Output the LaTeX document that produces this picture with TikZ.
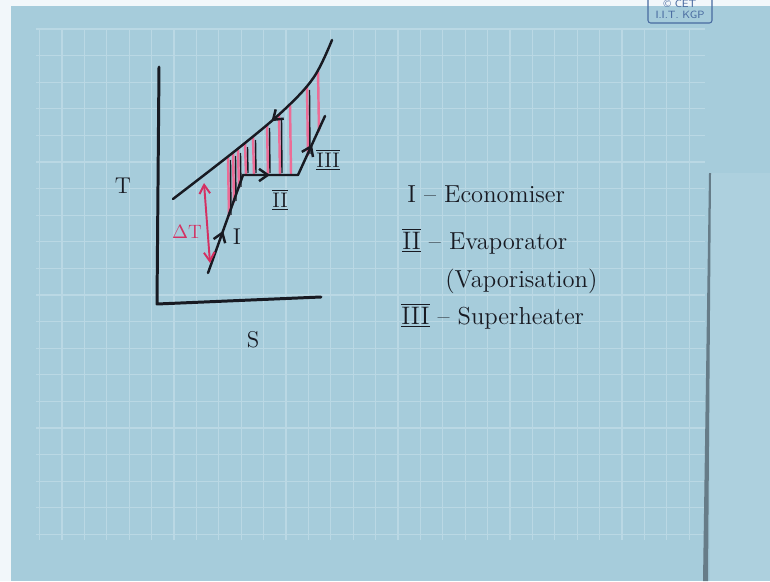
\documentclass[tikz,border=0pt]{standalone}
\usetikzlibrary{arrows.meta,decorations.markings,positioning}
\definecolor{paper}{RGB}{166,204,219}
\definecolor{gridln}{RGB}{186,216,228}
\definecolor{pen}{RGB}{24,26,34}
\definecolor{redpen}{RGB}{212,48,98}
\definecolor{pinkpen}{RGB}{236,108,150}
\definecolor{stamp}{RGB}{72,106,160}
\newcommand{\bars}[1]{$\overline{\underline{\mathrm{#1}}}$}

\begin{document}
\begin{tikzpicture}[x=0.02cm, y=-0.02cm,
    >={Straight Barb[length=5pt, width=7pt]},
    ink/.style={draw=pen, line width=1.4pt, line cap=round, line join=round},
    hatch/.style={draw=pinkpen, line width=1.4pt, line cap=round},
    lbl/.style={text=pen, font=\fontsize{13}{15}\selectfont, inner sep=0pt},
    legend/.style={text=pen, font=\fontsize{14}{17}\selectfont, inner sep=0pt, anchor=base west}]
    % paper and grid
    \clip (0,0) rectangle (770,581);
    \fill[white!85!paper] (0,0) rectangle (770,581);
    \fill[paper] (11,6) rectangle (770,581);
    \foreach \gx in {0,...,29}
        \draw[gridln, line width=0.6pt] ({39.6+22.4*\gx},29) -- ({39.6+22.4*\gx},540);
    \foreach \gy in {0,...,19}
        \draw[gridln, line width=0.6pt] (36,{29+26.6*\gy}) -- (705,{29+26.6*\gy});
    \fill[paper!92!white] (710,173) rectangle (770,581);
    \fill[pen!45!paper] (709,173) -- (711,173) -- (708,581) -- (703,581) -- cycle;

    % stamp
    \draw[stamp, line width=0.6pt, rounded corners=1.5pt] (648,-4) rectangle (712,23);
    \node[text=stamp, font=\sffamily\fontsize{6}{6}\selectfont, inner sep=0pt] (cet) at (680,4) {\textcopyright\ CET};
    \node[text=stamp, font=\sffamily\fontsize{6}{6}\selectfont, inner sep=0pt] (kgp) at (680,15) {I.I.T. KGP};

    % hatching between the two lines
    \foreach \hx/\ht/\hb/\blk in {228/157/216/1, 233/153/202/1, 238/150/188/1, 245/144/174/1,
        253/137/174/1, 267/125/174/1, 279/115/174/1, 290/105/174/0, 307/87/155/1, 318/71/131/0} {
        \draw[hatch] (\hx,\ht) -- (\hx+1,\hb);
        \ifnum\blk=1 \draw[pen, line width=0.8pt] (\hx+2.5,\ht+3) -- (\hx+3,\hb-1); \fi
    }

    % axes
    \draw[ink, line width=1.7pt] (159,67) -- (157,304) -- (321,297);

    % hot stream
    \draw[ink, decoration={markings, mark=at position 0.45 with {\arrow{>}}}, postaction={decorate}]
        plot[smooth, tension=0.6] coordinates {(332,40) (314,77) (285,109) (240,147) (173,199)};

    % cold stream
    \draw[ink, decoration={markings,
            mark=at position 0.2 with {\arrow{>}},
            mark=at position 0.585 with {\arrow{>}},
            mark=at position 0.86 with {\arrow{>}}}, postaction={decorate}]
        (208,273) -- (243,175) -- (298,175) -- (325,116);

    % temperature difference
    \coordinate (dTtop) at (204,183);
    \coordinate (dTbot) at (210,263);
    \draw[redpen, line width=1.1pt, {Straight Barb[length=5pt, width=6pt]}-{Straight Barb[length=5pt, width=6pt]}] (dTtop) -- (dTbot);
    \node[lbl, text=redpen, font=\fontsize{11}{13}\selectfont] (dT) at (187,232) {$\Delta$T};

    % axis and stage labels
    \node[lbl] (Tlab) at (123,186) {T};
    \node[lbl] (Slab) at (253,340) {S};
    \node[lbl] (one) at (237,237) {I};
    \node[lbl] (two) at (280,200) {\bars{II}};
    \node[lbl] (three) at (328,160) {\bars{III}};

    % legend
    \node[legend] (econ) at (407,202) {I -- Economiser};
    \node[legend] (evap) at (402,249) {\bars{II} -- Evaporator};
    \node[legend] (vap) at (445,287) {(Vaporisation)};
    \node[legend] (sup) at (401,324) {\bars{III} -- Superheater};
\end{tikzpicture}
\end{document}
